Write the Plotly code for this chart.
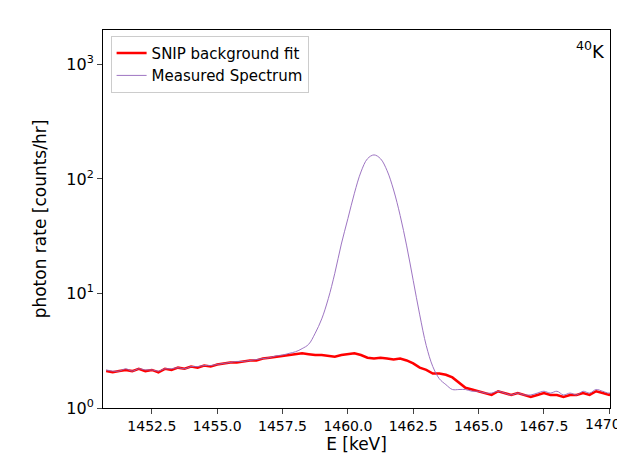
import numpy as np
import plotly.graph_objects as go

energy = np.arange(1450.75, 1470.51, 0.25)

background = [2.1, 2.05, 2.1, 2.15, 2.1, 2.2, 2.1, 2.15, 2.05,
              2.2, 2.15, 2.25, 2.2, 2.3, 2.25, 2.35, 2.3, 2.4,
              2.45, 2.5, 2.5, 2.55, 2.6, 2.6, 2.7, 2.75, 2.8,
              2.85, 2.9, 2.95, 3.0, 2.95, 2.9, 2.9, 2.85, 2.8,
              2.9, 2.95, 3.0, 2.9, 2.75, 2.7, 2.75, 2.7, 2.65,
              2.7, 2.6, 2.45, 2.25, 2.15, 2.0, 2.0, 1.95, 1.85,
              1.65, 1.5, 1.45, 1.4, 1.35, 1.3, 1.4, 1.35, 1.3,
              1.35, 1.3, 1.25, 1.3, 1.35, 1.3, 1.3, 1.25, 1.3,
              1.3, 1.35, 1.3, 1.4, 1.35, 1.3, 1.4, 1.35]

measured = [2.15, 2.1, 2.1, 2.2, 2.1, 2.2, 2.15, 2.15, 2.1,
            2.2, 2.2, 2.25, 2.2, 2.3, 2.3, 2.35, 2.35, 2.4,
            2.45, 2.5, 2.55, 2.55, 2.6, 2.65, 2.7, 2.75, 2.85,
            2.9, 3.0, 3.1, 3.3, 3.6, 4.5, 6.0, 9.0, 15,
            27, 45, 75, 115, 150, 162, 150, 118, 80,
            48, 26, 13, 6.5, 3.5, 2.3, 1.8, 1.6, 1.45,
            1.45, 1.45, 1.4, 1.4, 1.35, 1.35, 1.4, 1.35, 1.3,
            1.35, 1.3, 1.3, 1.35, 1.4, 1.35, 1.4, 1.3, 1.35,
            1.3, 1.4, 1.35, 1.45, 1.4, 1.35, 1.45, 1.4]

fig = go.Figure()
fig.add_trace(go.Scatter(x=energy, y=background, mode='lines', name='SNIP background fit',
                         line=dict(color='red', width=2.5)))
fig.add_trace(go.Scatter(x=energy, y=measured, mode='lines', name='Measured Spectrum',
                         line=dict(color='#9467bd', width=1, shape='spline'), opacity=0.9))

fig.add_annotation(xref='paper', yref='paper', x=0.995, y=0.985, xanchor='right', yanchor='top',
                   text='<sup>40</sup>K', showarrow=False, font=dict(size=18, color='black'))
# last tick label, which plotly drops at the edge
fig.add_annotation(xref='x', yref='paper', x=1470, y=0, yshift=-6, yanchor='top', xanchor='center',
                   text='1470.0', showarrow=False, font=dict(size=14, color='black'))

fig.update_layout(
    width=625, height=453,
    margin=dict(l=95, r=23, t=22, b=53),
    plot_bgcolor='white', paper_bgcolor='white',
    font=dict(family='DejaVu Sans', size=14, color='black'),
    legend=dict(x=0.015, y=0.985, xanchor='left', yanchor='top', bgcolor='rgba(255,255,255,0.8)',
                bordercolor='#cccccc', borderwidth=1, font=dict(size=15)),
    xaxis=dict(title=dict(text='E [keV]', font=dict(size=17), standoff=0), range=[1450.63, 1470.03],
               tickvals=[1452.5, 1455, 1457.5, 1460, 1462.5, 1465, 1467.5, 1470],
               ticktext=['1452.5', '1455.0', '1457.5', '1460.0', '1462.5', '1465.0', '1467.5', '1470.0'],
               showline=True, linecolor='black', mirror=True, ticks='outside', showgrid=False, zeroline=False),
    yaxis=dict(title=dict(text='photon rate [counts/hr]', font=dict(size=17)), type='log', range=[0, 3.3],
               tickvals=[1, 10, 100, 1000],
               ticktext=['10<sup>0</sup>', '10<sup>1</sup>', '10<sup>2</sup>', '10<sup>3</sup>'],
               tickfont=dict(size=16),
               showline=True, linecolor='black', mirror=True, ticks='outside', showgrid=False),
)

fig.write_html("out.html")
